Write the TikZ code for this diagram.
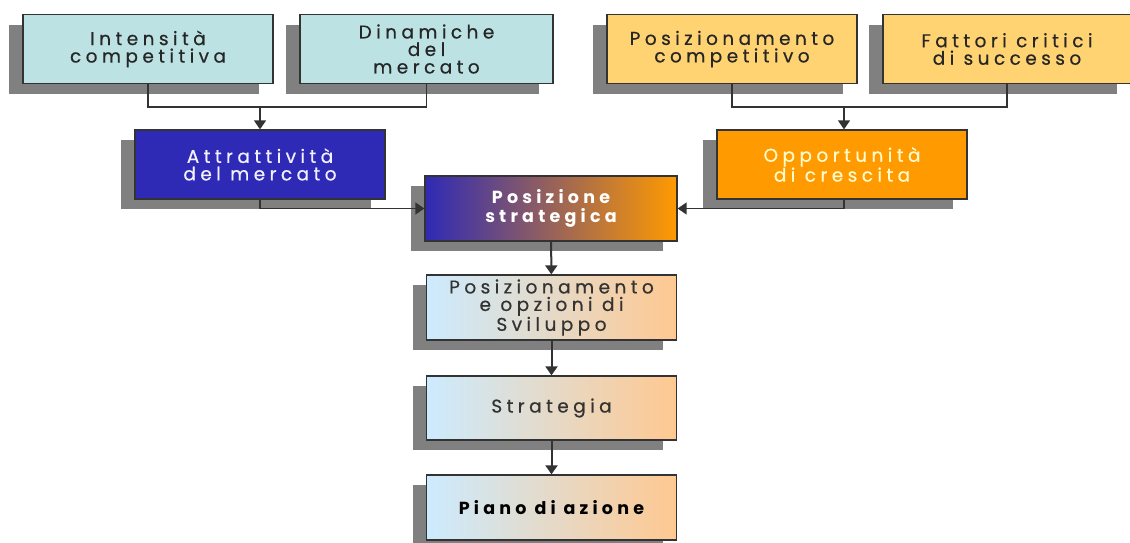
\documentclass[tikz,border=0pt]{standalone}
\usepackage{fontspec}
\setmainfont{Poppins}[LetterSpace=24, UprightFeatures={FakeBold=0.5}]
\usepackage{xcolor}
\usetikzlibrary{positioning, arrows.meta, shadows}

\definecolor{cyanbox}{HTML}{BDE2E4}
\definecolor{bluebox}{HTML}{2F2AB5}
\definecolor{sandbox}{HTML}{FFD272}
\definecolor{orangebox}{HTML}{FF9A00}
\definecolor{lightblue}{HTML}{CCEBFF}
\definecolor{lightorange}{HTML}{FFC890}
\definecolor{boxline}{HTML}{333333}

\begin{document}
\begin{tikzpicture}[x=1pt, y=-1pt, >={Triangle[width=12pt,length=9pt]},
    box/.style={draw=boxline, line width=1.3pt, minimum width=250pt, minimum height=69pt,
      align=center, font=\fontsize{18.5}{17.5}\selectfont, inner sep=2pt,
      drop shadow={shadow xshift=-14pt, shadow yshift=-10pt, fill=black!50, opacity=1}},
    link/.style={draw=boxline, line width=1.5pt},
    flow/.style={link, ->, line width=2pt}]
    \useasboundingbox (0,0) rectangle (1130,542);

    % Sources
    \node[box, fill=cyanbox, text=black!85]   (int) at (148,49)   {Intensità\\competitiva};
    \node[box, fill=cyanbox, text=black!85, minimum width=253pt] (din) at (426.5,49) {Dinamiche\\del\\mercato};
    \node[box, fill=sandbox, text=black!85]   (posc) at (732,49)  {Posizionamento\\competitivo};
    \node[box, fill=sandbox, text=black!85, minimum width=248pt] (fat) at (1007,49) {Fattori critici\\di successo};

    % Synthesis
    \node[box, fill=bluebox, text=blue!5]     (attr) at (260,164.5) {Attrattività\\del mercato};
    \node[box, fill=orangebox, text=yellow!20] (opp) at (842,164.5) {Opportunità\\di crescita};
    \node[box, left color=bluebox, right color=orangebox, text=white, minimum width=252pt,
      minimum height=65pt, font=\fontsize{17.5}{18.5}\selectfont\bfseries] (pos) at (551,208.5) {Posizione\\strategica};

    % Chain
    \node[box, left color=lightblue, right color=lightorange, text=black!80, minimum height=65pt]
      (svil) at (551.5,307.5) {Posizionamento\\e opzioni di\\Sviluppo};
    \node[box, left color=lightblue, right color=lightorange, text=black!80, minimum height=64pt]
      (strat) at (551.5,408) {Strategia};
    \node[box, left color=lightblue, right color=lightorange, text=black, minimum height=65pt,
      font=\fontsize{17.5}{18.5}\selectfont\bfseries] (piano) at (551.5,507.5) {Piano di azione};

    % Connectors
    \coordinate (jl) at (260,107);
    \coordinate (jr) at (844,107);
    \draw[link] (int.south) |- (jl) -| (din.south);
    \draw[link, ->] (jl) -- (attr.north);
    \draw[link] (posc.south) |- (jr) -| (fat.south);
    \draw[link, ->] (jr) -- (jr |- opp.north);
    \draw[link, ->] (attr.south) |- (pos.west);
    \draw[link, ->] (jr |- opp.south) |- (pos.east);
    \draw[flow] (pos) -- (svil);
    \draw[flow] (svil) -- (strat);
    \draw[flow] (strat) -- (piano);
\end{tikzpicture}
\end{document}
